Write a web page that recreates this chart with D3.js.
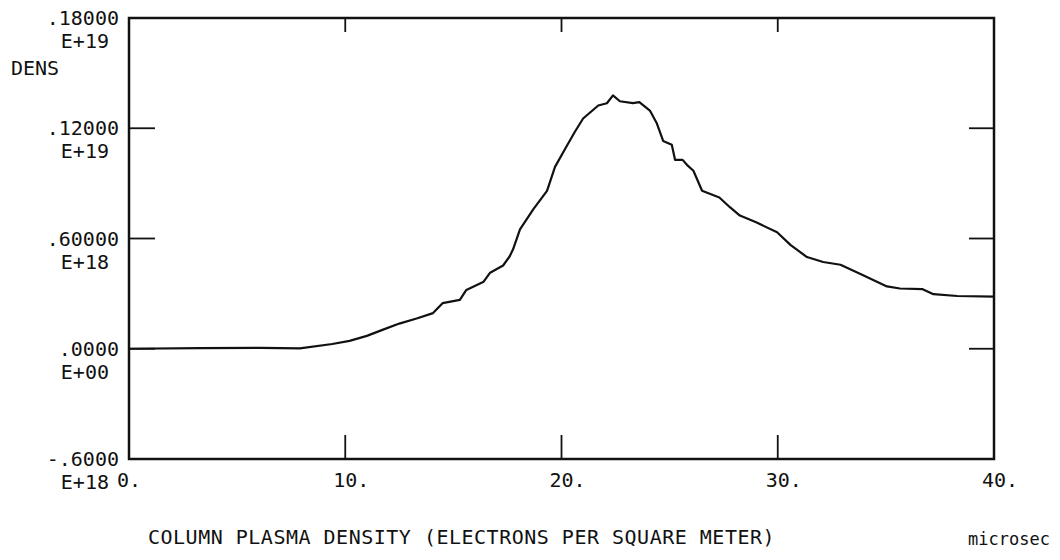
<!DOCTYPE html>
<html>
<head>
<meta charset="utf-8">
<script src="https://cdn.jsdelivr.net/npm/d3@7"></script>
<style>
  body { margin: 0; background: #fff; }
  svg { display: block; }
  text { font-family: "DejaVu Sans Mono", monospace; fill: #111; }
</style>
</head>
<body>
<svg></svg>
<script>
//Data (time in microsec, density in units of 1E18 per m^2)
const timeUs = [0, 3.3, 6.1, 7.9, 9.4, 10.2, 11.0, 11.75, 12.5, 13.3, 14.06, 14.5, 15.3, 15.6, 16.4, 16.7,
  17.3, 17.6, 17.76, 18.08, 18.7, 19.33, 19.7, 20.25, 20.62, 21.0, 21.7, 22.1, 22.38, 22.7, 23.3, 23.6,
  24.1, 24.4, 24.7, 25.1, 25.25, 25.6, 25.8, 26.1, 26.5, 27.3, 27.8, 28.25, 29.0, 29.97, 30.6, 31.35,
  32.1, 32.9, 33.3, 33.9, 35.05, 35.65, 36.7, 37.2, 38.3, 40];
const densE18 = [0, 0.003, 0.005, 0.002, 0.026, 0.043, 0.070, 0.104, 0.137, 0.165, 0.194, 0.248, 0.266, 0.320, 0.365, 0.414,
  0.453, 0.502, 0.541, 0.650, 0.760, 0.859, 0.990, 1.105, 1.181, 1.253, 1.324, 1.336, 1.379, 1.347, 1.337, 1.342,
  1.294, 1.229, 1.131, 1.110, 1.028, 1.028, 1.001, 0.969, 0.860, 0.823, 0.769, 0.725, 0.688, 0.634, 0.564, 0.499,
  0.472, 0.457, 0.435, 0.403, 0.339, 0.328, 0.324, 0.297, 0.287, 0.284];

const xTicks = [0, 10, 20, 30, 40];
const xTickLabels = ["0.", "10.", "20.", "30.", "40."];
const yTicks = [-0.6, 0, 0.6, 1.2, 1.8];
const yTickMantissa = ["-.6000", ".0000", ".60000", ".12000", ".18000"];
const yTickExponent = ["E+18", "E+00", "E+18", "E+19", "E+19"];

const w = 1060;
const h = 560;
const padLeft = 129, padRight = 994, padTop = 18, padBottom = 459;

const svg = d3.select("svg").attr("width", w).attr("height", h);

//Scales
const xScale = d3.scaleLinear().domain([0, 40]).range([padLeft, padRight]);
const yScale = d3.scaleLinear().domain([-0.6, 1.8]).range([padBottom, padTop]);

//Frame
svg.append("rect")
   .attr("x", padLeft).attr("y", padTop)
   .attr("width", padRight - padLeft).attr("height", padBottom - padTop)
   .attr("fill", "none").attr("stroke", "#111").attr("stroke-width", 2.5);

//Tick marks (bottom up, top down, left right, right left)
const ticks = svg.append("g").attr("stroke", "#111").attr("stroke-width", 1.8);
xTicks.slice(1, -1).forEach(t => {
  ticks.append("line").attr("x1", xScale(t)).attr("x2", xScale(t))
       .attr("y1", padBottom).attr("y2", padBottom - 24);
  ticks.append("line").attr("x1", xScale(t)).attr("x2", xScale(t))
       .attr("y1", padTop).attr("y2", padTop + 14);
});
yTicks.slice(1, -1).forEach(t => {
  ticks.append("line").attr("x1", padLeft).attr("x2", padLeft + 26)
       .attr("y1", yScale(t)).attr("y2", yScale(t));
  ticks.append("line").attr("x1", padRight).attr("x2", padRight - 25)
       .attr("y1", yScale(t)).attr("y2", yScale(t));
});

//Curve
const line = d3.line()
  .x((d, i) => xScale(timeUs[i]))
  .y(d => yScale(d));
svg.append("path")
   .datum(densE18)
   .attr("d", line)
   .attr("fill", "none")
   .attr("stroke", "#111")
   .attr("stroke-width", 2.2)
   .attr("stroke-linejoin", "round");

//Y labels, two lines each
yTicks.forEach((t, i) => {
  svg.append("text").attr("x", 119).attr("y", yScale(t) + 7)
     .attr("text-anchor", "end").attr("font-size", 20).text(yTickMantissa[i]);
  svg.append("text").attr("x", 109).attr("y", yScale(t) + 30)
     .attr("text-anchor", "end").attr("font-size", 20).text(yTickExponent[i]);
});

svg.append("text").attr("x", 11).attr("y", 75).attr("font-size", 20).text("DENS");

//X labels
xTicks.forEach((t, i) => {
  svg.append("text").attr("x", xScale(t) - 12).attr("y", 487)
     .attr("font-size", 20).text(xTickLabels[i]);
});

svg.append("text").attr("x", 148).attr("y", 544)
   .attr("font-size", 20).attr("letter-spacing", 0.5)
   .text("COLUMN PLASMA DENSITY (ELECTRONS PER SQUARE METER)");
svg.append("text").attr("x", 968).attr("y", 545)
   .attr("font-size", 17).text("microsec");
</script>
</body>
</html>
